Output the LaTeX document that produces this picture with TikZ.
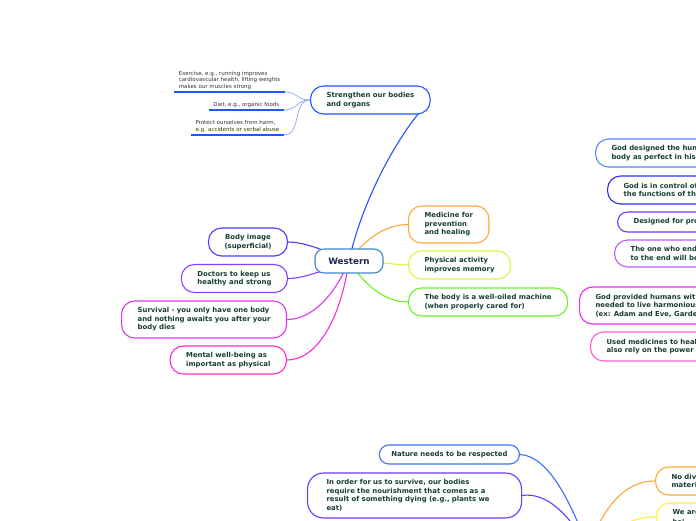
\documentclass[tikz,border=0pt]{standalone}
\usepackage{fontspec}
\setmainfont{DejaVu Sans}
\usepackage{xcolor}
\usepackage{tikz}
\usetikzlibrary{backgrounds}
\definecolor{txt}{HTML}{173F2F}
\definecolor{leaftxt}{HTML}{333333}
\definecolor{navy}{HTML}{1C2B4F}
\definecolor{cWest}{HTML}{3F86CC}
\definecolor{cStr}{HTML}{2155FF}
\definecolor{cTwig}{HTML}{8AA6FF}
\definecolor{cImg}{HTML}{4B3CFF}
\definecolor{cDoc}{HTML}{8A40FF}
\definecolor{cSurv}{HTML}{D838F0}
\definecolor{cMent}{HTML}{FF2BC8}
\definecolor{cMed}{HTML}{FFA63A}
\definecolor{cPhys}{HTML}{E0F23A}
\definecolor{cMach}{HTML}{6CF02A}
\definecolor{cPerf}{HTML}{5A86FF}
\definecolor{cCtrl}{HTML}{2A2AFF}
\definecolor{cProc}{HTML}{7038FF}
\definecolor{cEnd}{HTML}{B85CFF}
\definecolor{cProv}{HTML}{F02AF0}
\definecolor{cUsed}{HTML}{FF5AD8}
\definecolor{cNat}{HTML}{3A70FF}
\definecolor{cOrd}{HTML}{6A38FF}
\definecolor{cDiv}{HTML}{FFA63A}
\definecolor{cWe}{HTML}{FFEE3A}

\begin{document}
\begin{tikzpicture}[x=1pt,y=-1pt,
  topic/.style={draw,line width=1.1pt,rounded corners=13pt,fill=white,align=left,inner xsep=16pt,minimum height=28pt,font=\fontsize{6.9}{8.6}\selectfont\bfseries,text=txt},
  leaf/.style={align=left,inner xsep=4.5pt,inner ysep=2.5pt,font=\fontsize{5.5}{6.5}\selectfont,text=leaftxt,anchor=south east},
  link/.style={line width=1.1pt},
  twig/.style={line width=0.7pt,cTwig}]
\useasboundingbox (0,0) rectangle (696,520);
\clip (0,0) rectangle (696,520);

\node[draw=cWest,fill=white,line width=1.1pt,rounded corners=9pt,minimum width=68pt,minimum height=24pt,font=\fontsize{8.8}{10}\selectfont\bfseries,text=navy] (western) at (349,261) {Western};

\node[topic,draw=cStr,anchor=west] (strengthen) at (310,100) {Strengthen our bodies\\and organs};
\node[leaf] (exercise) at (285,92) {Exercise, e.g., running improves\\cardiovascular health, lifting weights\\makes our muscles strong};
\node[leaf] (diet) at (284,110) {Diet, e.g., organic foods};
\node[leaf] (protect) at (284,135) {Protect ourselves from harm,\\e.g. accidents or verbal abuse};
\foreach \n in {exercise,diet,protect} \draw[cStr,line width=1.5pt] (\n.south west) -- (\n.south east);

\node[topic,draw=cImg,anchor=east,align=center] (image) at (288,242) {Body image\\(superficial)};
\node[topic,draw=cDoc,anchor=east] (doctors) at (288,278.5) {Doctors to keep us\\healthy and strong};
\node[topic,draw=cSurv,anchor=east,minimum height=37pt] (survival) at (287,319.5) {Survival - you only have one body\\and nothing awaits you after your\\body dies};
\node[topic,draw=cMent,anchor=east] (mental) at (287,360) {Mental well-being as\\important as physical};

\node[topic,draw=cMed,anchor=west,minimum height=37pt] (medicine) at (408,224.5) {Medicine for\\prevention\\and healing};
\node[topic,draw=cPhys,anchor=west] (activity) at (408,265) {Physical activity\\improves memory};
\node[topic,draw=cMach,anchor=west] (machine) at (408,302) {The body is a well-oiled machine\\(when properly cared for)};

\node[topic,draw=cPerf,anchor=west] (perfect) at (595,153) {God designed the hum\\body as perfect in his};
\node[topic,draw=cCtrl,anchor=west] (control) at (607,190) {God is in control of\\the functions of th};
\node[topic,draw=cProc,anchor=west,minimum height=20pt,rounded corners=10pt] (designed) at (617,222) {Designed for proc};
\node[topic,draw=cEnd,anchor=west,minimum height=27pt] (endure) at (614,253.5) {The one who endu\\to the end will be};
\node[topic,draw=cProv,anchor=west,minimum height=37pt] (provided) at (579,305.5) {God provided humans wit\\needed to live harmonious\\(ex: Adam and Eve, Garde};
\node[topic,draw=cUsed,anchor=west,minimum height=29pt] (medicines) at (590,346.5) {Used medicines to heal\\also rely on the power};

\node[topic,draw=cNat,anchor=east,align=center,inner xsep=12pt,minimum height=19pt,rounded corners=9.5pt] (nature) at (520,454.5) {Nature needs to be respected};
\node[topic,draw=cOrd,anchor=west,text width=176pt,inner xsep=19pt,minimum height=45pt,rounded corners=16pt] (survive) at (307,495.5) {In order for us to survive, our bodies\\require the nourishment that comes as a\\result of something dying (e.g., plants we\\eat)};
\node[topic,draw=cDiv,anchor=west] (nodiv) at (655,481) {No div\\materi};
\node[topic,draw=cWe,anchor=west] (weare) at (656,517) {We are\\[1.5pt]bei};
\coordinate (hub) at (588,548);

\begin{scope}[on background layer]
\clip (0,0) rectangle (696,520);
\draw[link,cStr] (western.center) .. controls (362,200) and (400,130) .. (strengthen.east);
\draw[twig] (strengthen.west) .. controls (296,100) and (298,92) .. (exercise.south east);
\draw[twig] (strengthen.west) .. controls (296,100) and (298,110) .. (diet.south east);
\draw[twig] (strengthen.west) .. controls (292,100) and (302,135) .. (protect.south east);
\draw[link,cImg] (western.center) .. controls (320,248) and (302,242) .. (image.east);
\draw[link,cDoc] (western.center) .. controls (320,272) and (302,278.5) .. (doctors.east);
\draw[link,cSurv] (western.center) .. controls (335,295) and (312,319.5) .. (survival.east);
\draw[link,cMent] (western.center) .. controls (340,322) and (316,360) .. (mental.east);
\draw[link,cMed] (western.center) .. controls (366,238) and (386,224.5) .. (medicine.west);
\draw[link,cPhys] (western.center) .. controls (385,262) and (395,265) .. (activity.west);
\draw[link,cMach] (western.center) .. controls (368,290) and (388,302) .. (machine.west);
\draw[link,cNat] (nature.east) .. controls (548,456) and (570,500) .. (hub);
\draw[link,cOrd] (survive.east) .. controls (545,492) and (568,512) .. (hub);
\draw[link,cDiv] (nodiv.west) .. controls (625,481) and (605,505) .. (hub);
\draw[link,cWe] (weare.west) .. controls (636,516) and (610,528) .. (hub);
\end{scope}
\end{tikzpicture}
\end{document}
